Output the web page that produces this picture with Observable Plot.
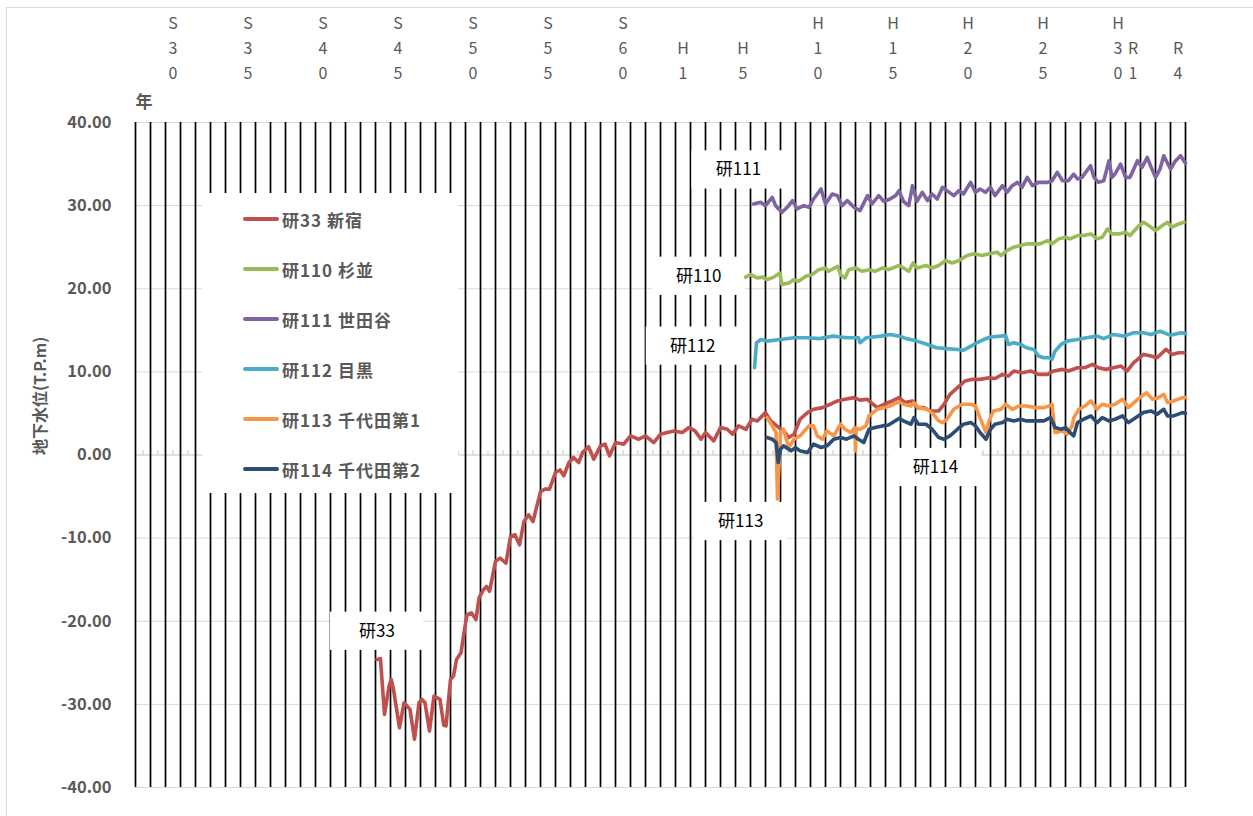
<!DOCTYPE html>
<html>
<head>
<meta charset="utf-8">
<script src="https://cdn.jsdelivr.net/npm/d3@7"></script>
<script src="https://cdn.jsdelivr.net/npm/@observablehq/plot@0.6"></script>
<style>
  html, body { margin: 0; padding: 0; background: #fff; }
  #wrap { position: relative; width: 1253px; height: 816px; overflow: hidden; font-family: "Noto Sans CJK JP", "Noto Sans", sans-serif; }
  #border { position: absolute; left: 6px; top: 7px; right: -2px; bottom: -2px; border-top: 1px solid #d9d9d9; border-left: 1px solid #d9d9d9; pointer-events: none; }
  #legend { position: absolute; left: 202px; top: 193px; width: 256px; height: 300px; background: #fff; }
  .item { position: absolute; left: 41px; height: 24px; display: flex; align-items: center; font-weight: bold; font-size: 17px; color: #595959; letter-spacing: 1px; white-space: nowrap; }
  .sw { display: inline-block; width: 36px; height: 4px; border-radius: 2px; margin-right: 3px; }
</style>
</head>
<body>
<div id="wrap"><div id="border"></div></div>
<script>
// ---------- data ----------
const seriesNames = ["研33 新宿", "研110 杉並", "研111 世田谷", "研112 目黒", "研113 千代田第1", "研114 千代田第2"];
const seriesColors = ["#C0504D", "#9BBB59", "#8064A2", "#4BACC6", "#F79646", "#2C4D75"];

const ken33Years = [1969.1,1969.33,1969.6,1969.9,1970.05,1970.2,1970.6,1970.9,1971.1,1971.3,1971.6,1971.9,1972.1,1972.3,1972.6,1972.9,1973.3,1973.55,1973.7,1974.0,1974.2,1974.4,1974.7,1974.9,1975.1,1975.4,1975.7,1975.9,1976.2,1976.4,1976.6,1977.0,1977.3,1977.7,1978.0,1978.3,1978.6,1978.9,1979.2,1979.5,1980.0,1980.3,1980.6,1981.0,1981.3,1981.55,1981.9,1982.2,1982.55,1982.8,1983.2,1983.55,1984.0,1984.3,1984.6,1985.0,1985.55,1986.0,1986.55,1987.0,1987.55,1988.0,1988.45,1988.9,1989.45,1989.9,1990.3,1990.7,1991.0,1991.55,1992.0,1992.45,1992.8,1993.2,1993.7,1994.1,1994.45,1995.0,1995.35,1995.9,1996.3,1996.55,1996.9,1997.3,1997.8,1998.2,1998.8,1999.3,1999.8,2000.3,2000.9,2001.3,2001.8,2002.1,2002.45,2002.9,2003.45,2003.9,2004.3,2004.8,2005.1,2005.55,2006.0,2006.55,2006.9,2007.3,2007.8,2008.3,2008.8,2009.3,2009.9,2010.3,2010.8,2011.2,2011.55,2012.1,2012.7,2013.2,2013.8,2014.2,2014.8,2015.2,2015.8,2016.3,2016.8,2017.2,2017.7,2018.2,2018.7,2019.1,2019.55,2020.2,2020.7,2021.1,2021.7,2022.1,2022.55,2022.9];
const ken33Values = [-24.6,-24.5,-31.2,-27.8,-27.0,-28.2,-32.8,-29.8,-30.2,-30.6,-34.2,-29.8,-29.4,-29.8,-33.2,-29.0,-29.4,-32.5,-32.6,-27.0,-26.6,-24.6,-23.8,-21.4,-19.2,-19.0,-19.8,-17.2,-16.2,-15.8,-16.4,-12.8,-12.4,-13.0,-9.8,-9.6,-10.8,-8.0,-7.2,-8.0,-4.4,-4.1,-4.1,-2.1,-1.8,-2.5,-0.9,-0.3,-0.9,0.3,1.0,-0.5,1.1,1.3,-0.1,1.5,1.3,2.3,1.9,2.3,1.5,2.5,2.7,2.9,2.7,3.3,2.9,1.9,2.7,1.7,3.3,3.1,2.5,3.5,3.1,4.3,4.1,5.1,4.1,3.3,2.7,2.1,2.5,4.3,5.1,5.5,5.7,6.1,6.5,6.7,6.9,6.6,6.7,6.2,5.7,6.1,6.5,6.9,6.3,6.5,5.7,5.7,5.3,5.3,6.1,7.3,8.1,8.9,9.1,9.1,9.3,9.2,9.7,9.5,10.1,9.9,10.1,9.7,9.7,10.1,10.3,10.1,10.5,10.5,10.9,10.5,10.3,10.5,10.7,10.1,11.1,12.1,11.9,11.7,12.7,12.1,12.3,12.3];

const ken110Years = [1993.67,1994.0,1994.45,1994.8,1995.1,1995.55,1995.95,1996.1,1996.55,1996.9,1997.2,1997.7,1998.1,1998.55,1999.0,1999.2,1999.8,2000.0,2000.3,2000.55,2001.0,2001.45,2001.9,2002.3,2002.8,2003.2,2003.9,2004.2,2004.55,2004.85,2005.1,2005.7,2006.1,2006.55,2007.0,2007.45,2007.9,2008.45,2008.9,2009.45,2009.9,2010.45,2010.7,2011.1,2011.55,2012.0,2012.45,2012.9,2013.3,2013.8,2014.1,2014.55,2015.0,2015.3,2015.8,2016.2,2016.7,2017.1,2017.45,2017.8,2018.1,2018.55,2019.0,2019.3,2019.8,2020.2,2020.55,2021.0,2021.45,2021.8,2022.1,2022.55,2022.9];
const ken110Values = [21.4,21.7,21.3,21.4,21.1,21.4,21.9,20.5,20.7,21.1,20.9,21.5,21.7,22.3,22.5,22.1,22.7,21.7,21.3,22.3,22.5,22.1,22.3,22.1,22.5,22.3,22.8,22.5,22.1,23.1,22.5,22.8,22.5,22.8,23.4,23.1,23.4,24.0,24.2,24.0,24.2,24.4,24.0,24.6,25.0,25.2,25.4,25.4,25.4,25.8,25.4,26.0,26.2,26.0,26.4,26.4,26.6,26.0,26.2,27.2,26.6,26.6,26.8,26.4,27.4,28.0,27.6,27.0,27.6,28.0,27.4,27.8,28.0];

const ken111Years = [1994.2,1994.67,1995.0,1995.45,1995.67,1996.1,1996.45,1996.8,1997.1,1997.55,1997.9,1998.2,1998.7,1999.0,1999.45,1999.8,2000.1,2000.45,2000.9,2001.3,2001.8,2002.1,2002.55,2002.9,2003.3,2003.67,2003.9,2004.2,2004.55,2004.8,2005.1,2005.45,2005.8,2006.1,2006.45,2006.8,2007.1,2007.55,2007.9,2008.2,2008.67,2009.0,2009.3,2009.67,2010.0,2010.3,2010.8,2011.1,2011.45,2011.8,2012.1,2012.45,2012.8,2013.2,2013.8,2014.1,2014.45,2014.8,2015.2,2015.55,2015.8,2016.1,2016.67,2016.9,2017.2,2017.55,2017.9,2018.1,2018.3,2018.67,2019.0,2019.3,2019.8,2020.1,2020.45,2020.67,2021.0,2021.3,2021.55,2022.0,2022.3,2022.67,2023.0];
const ken111Values = [30.2,30.4,30.0,31.0,30.0,29.2,29.8,30.6,29.6,30.0,29.8,30.8,32.0,30.2,31.4,31.2,30.0,30.6,29.8,29.4,31.2,30.2,31.2,30.5,30.8,31.2,31.8,30.5,30.0,32.4,30.5,31.6,30.6,31.4,30.8,32.2,31.8,31.2,31.8,31.4,32.8,31.6,32.0,31.6,32.2,31.2,32.4,31.6,32.4,32.8,32.2,33.4,32.4,32.8,32.8,33.0,34.0,33.0,33.0,33.8,33.2,33.4,34.8,33.4,32.8,33.0,35.4,33.4,33.8,35.0,33.4,33.4,35.4,34.6,35.8,34.8,33.4,34.4,36.0,34.4,35.3,36.0,35.1];

const ken112Years = [1994.27,1994.4,1994.7,1995.1,1996.0,1996.9,1997.8,1998.6,1999.5,2000.4,2001.2,2001.3,2001.7,2002.7,2003.3,2003.9,2004.4,2005.1,2005.8,2006.4,2007.1,2007.8,2008.2,2008.7,2009.1,2009.55,2010.0,2010.7,2011.0,2011.2,2011.55,2012.0,2012.4,2012.9,2013.2,2013.55,2013.9,2014.1,2014.3,2014.7,2015.1,2015.8,2016.4,2017.1,2017.55,2018.2,2018.9,2019.55,2020.2,2020.7,2021.3,2022.0,2022.7,2023.0];
const ken112Values = [10.5,13.5,13.9,13.7,13.9,14.1,14.1,14.0,14.3,14.1,14.1,13.5,14.1,14.3,14.5,14.3,14.0,13.7,13.3,12.9,12.8,12.7,12.6,13.1,13.5,13.9,14.2,14.3,14.4,13.3,13.5,13.3,12.9,12.7,11.9,11.7,11.7,11.5,12.5,13.3,13.7,13.9,14.1,14.3,14.0,14.5,14.3,14.7,14.7,14.5,14.9,14.4,14.7,14.6];

const ken113Years = [1995.1,1995.45,1995.7,1995.8,1996.0,1996.2,1996.55,1996.9,1997.3,1997.7,1997.9,1998.2,1998.45,1998.8,1999.1,1999.55,2000.0,2000.3,2000.7,2000.95,2001.0,2001.05,2001.3,2001.7,2001.9,2002.45,2002.9,2003.3,2003.9,2004.2,2004.7,2004.9,2005.2,2005.8,2006.2,2006.55,2006.8,2007.1,2007.55,2008.1,2008.7,2009.0,2009.3,2009.7,2009.9,2010.2,2010.7,2011.0,2011.45,2011.9,2012.4,2013.0,2013.55,2013.9,2014.1,2014.3,2014.8,2015.1,2015.45,2015.55,2015.9,2016.3,2016.7,2017.1,2017.45,2017.9,2018.3,2018.8,2019.2,2019.7,2020.1,2020.4,2020.8,2021.2,2021.55,2021.8,2022.2,2022.8,2023.0];
const ken113Values = [4.5,3.5,2.7,-5.3,2.7,3.1,0.9,1.9,2.3,3.1,3.5,3.5,2.3,1.9,2.9,2.3,3.7,3.1,2.7,3.3,0.5,3.2,3.1,3.5,4.7,5.5,5.7,5.9,6.4,6.1,5.9,6.3,5.7,5.5,4.9,4.1,3.9,4.3,5.5,6.1,6.1,5.9,4.5,2.7,4.1,5.3,5.5,6.1,5.5,5.9,5.9,5.7,5.7,5.9,6.1,2.7,2.9,2.5,3.5,4.5,5.5,5.9,6.5,5.5,6.1,5.9,6.1,6.7,5.7,6.5,7.1,7.5,6.7,6.9,7.3,6.3,6.5,6.9,6.9];

const ken114Years = [1995.1,1995.45,1995.7,1995.85,1996.0,1996.2,1996.7,1997.0,1997.3,1997.8,1998.2,1998.7,1999.1,1999.55,2000.0,2000.4,2000.9,2001.2,2001.55,2001.9,2002.3,2002.8,2003.2,2003.9,2004.2,2004.7,2004.9,2005.2,2005.7,2006.1,2006.55,2006.9,2007.3,2007.8,2008.2,2008.7,2009.0,2009.3,2009.7,2010.0,2010.3,2010.8,2011.1,2011.55,2012.0,2012.4,2013.0,2013.55,2014.0,2014.3,2014.7,2015.0,2015.3,2015.55,2015.8,2016.2,2016.7,2017.1,2017.45,2017.9,2018.3,2018.8,2019.2,2019.7,2020.2,2020.7,2021.1,2021.55,2021.8,2022.2,2022.8,2023.0];
const ken114Values = [2.1,1.9,1.5,-0.9,0.7,1.1,0.5,0.9,0.5,0.3,1.3,0.9,1.1,1.9,2.1,1.9,2.3,1.9,1.5,3.1,3.3,3.5,3.6,4.4,4.1,3.7,4.5,3.7,3.7,3.1,2.1,1.9,2.3,3.1,3.7,3.9,3.5,2.7,1.9,3.1,3.7,3.9,4.3,4.1,4.3,4.1,4.1,4.1,4.5,3.3,3.1,3.3,2.7,2.3,3.9,4.3,4.7,3.9,4.5,4.1,4.3,4.7,3.9,4.5,5.1,5.3,4.9,5.5,4.7,4.7,5.1,5.0];

const yearLines = d3.range(1953, 2024);
const yTicks = d3.range(-40, 41, 10);
const topTickYears = [1955, 1960, 1965, 1970, 1975, 1980, 1985, 1989, 1993, 1998, 2003, 2008, 2013, 2018, 2019, 2022];
const topTickLabels = ["S30", "S35", "S40", "S45", "S50", "S55", "S60", "H1", "H5", "H10", "H15", "H20", "H25", "H30", "R1", "R4"];

const pointLabelNames = ["研111", "研110", "研112", "研113", "研114", "研33"];
const pointLabelYears = [1993.2, 1990.55, 1990.15, 1993.35, 2006.33, 1969.1];
const pointLabelValues = [34.3, 21.5, 13.1, -8.0, -1.5, -21.2];

// ---------- build ----------
const seriesYears = [ken33Years, ken110Years, ken111Years, ken112Years, ken113Years, ken114Years];
const seriesValues = [ken33Values, ken110Values, ken111Values, ken112Values, ken113Values, ken114Values];
const rows = [];
seriesNames.forEach((name, i) => {
  seriesYears[i].forEach((yr, j) => rows.push({series: name, year: yr, value: seriesValues[i][j]}));
});
const topTicks = topTickYears.map((y, i) => ({year: y, label: topTickLabels[i].split("").join("\n")}));
const pointLabels = pointLabelNames.map((n, i) => ({name: n, year: pointLabelYears[i], value: pointLabelValues[i]}));

const FONT = '"Noto Sans CJK JP", "Noto Sans", sans-serif';
const chart = Plot.plot({
  width: 1253,
  height: 816,
  marginTop: 122,
  marginLeft: 135,
  marginRight: 68,
  marginBottom: 29,
  style: {fontFamily: FONT, fontSize: "15px", background: "transparent"},
  x: {domain: [1953, 2023], axis: null},
  y: {domain: [-40, 40], axis: null},
  color: {domain: seriesNames, range: seriesColors},
  marks: [
    Plot.ruleY(yTicks.filter(d => d !== 0), {y: d => d, stroke: "#d9d9d9", strokeWidth: 1}),
    Plot.ruleY([0], {stroke: "#bfbfbf", strokeWidth: 1.2}),
    Plot.ruleX(yearLines.slice(0, -1), {x: d => d + 0.5, y1: 0, y2: 0.5, stroke: "#bfbfbf"}),
    Plot.ruleX(yearLines, {x: d => d, stroke: "#000", strokeWidth: 1.7}),
    Plot.rect(pointLabels, {x1: d => d.year - 3.1, x2: d => d.year + 3.1, y1: d => d.value - 2.3, y2: d => d.value + 2.3, fill: "#fff"}),
    Plot.line(rows, {x: "year", y: "value", z: "series", stroke: "series", strokeWidth: 3.6, strokeLinejoin: "round", strokeLinecap: "round"}),
    Plot.text(pointLabels, {x: "year", y: "value", text: "name", fill: "#000", fontSize: 17}),
    Plot.text(topTicks, {x: d => d.year + 0.5, frameAnchor: "top", text: "label", dy: -44, lineAnchor: "bottom", lineHeight: 1.55, fill: "#595959", fontSize: 16}),
    Plot.text(["年"], {frameAnchor: "top-left", text: d => d, dy: -27, fill: "#595959", fontWeight: "bold", fontSize: 17}),
    Plot.text(yTicks, {x: 1953, y: d => d, text: d => d.toFixed(2), textAnchor: "end", dx: -24, fill: "#595959", fontWeight: "bold", fontSize: 16.5}),
    Plot.text(["地下水位(T.P.m)"], {frameAnchor: "left", text: d => d, rotate: -90, dx: -95, fill: "#595959", fontWeight: "bold", fontSize: 16})
  ]
});
const wrap = document.getElementById("wrap");
wrap.appendChild(chart);
chart.style.position = "absolute";
chart.style.left = "0px";
chart.style.top = "0px";

// legend overlay (inside plot area, white box)
const legend = document.createElement("div");
legend.id = "legend";
seriesNames.forEach((name, i) => {
  const it = document.createElement("div");
  it.className = "item";
  it.style.top = (14 + 50 * i) + "px";
  const sw = document.createElement("span");
  sw.className = "sw";
  sw.style.background = seriesColors[i];
  it.appendChild(sw);
  it.appendChild(document.createTextNode(name));
  legend.appendChild(it);
});
wrap.appendChild(legend);
</script>
</body>
</html>
